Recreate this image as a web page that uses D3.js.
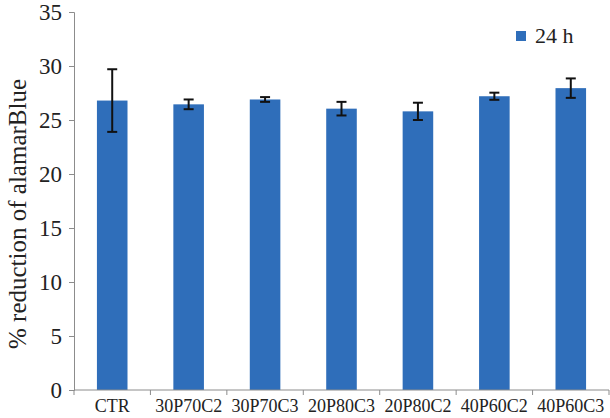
<!DOCTYPE html>
<html lang="en">
<head>
  <meta charset="UTF-8">
  <title>alamarBlue reduction</title>
  <script src="https://cdn.jsdelivr.net/npm/d3@7/dist/d3.min.js"></script>
  <style>
    body { margin: 0; background: #fff; }
    svg { display: block; }
    text { font-family: "Liberation Serif", "Times New Roman", serif; fill: #222; }
  </style>
</head>
<body>
  <svg></svg>
  <script>
    const width = 610;
    const height = 418;

    // data
    const groups = ["CTR", "30P70C2", "30P70C3", "20P80C3", "20P80C2", "40P60C2", "40P60C3"];
    const values = [26.8, 26.45, 26.9, 26.05, 25.8, 27.2, 27.95];
    const errors = [2.9, 0.45, 0.22, 0.63, 0.8, 0.33, 0.9];
    const yTicks = [0, 5, 10, 15, 20, 25, 30, 35];
    const seriesName = "24 h";

    const margin = { top: 12, right: 1, bottom: 28, left: 74 };
    const barColor = "#2f6eba";
    const axisColor = "#8c8c8c";

    const svg = d3.select("svg").attr("width", width).attr("height", height);

    const x = d3.scaleBand()
      .domain(groups)
      .range([margin.left, width - margin.right])
      .paddingInner(0.6)
      .paddingOuter(0.3);

    const y = d3.scaleLinear()
      .domain([0, 35])
      .range([height - margin.bottom, margin.top]);

    // bars
    svg.append("g")
      .selectAll("rect")
      .data(groups)
      .join("rect")
      .attr("x", d => x(d))
      .attr("y", (d, i) => y(values[i]))
      .attr("width", x.bandwidth())
      .attr("height", (d, i) => y(0) - y(values[i]))
      .attr("fill", barColor);

    // error bars
    const eb = svg.append("g").attr("stroke", "#111").attr("stroke-width", 2);
    groups.forEach((g, i) => {
      const cx = x(g) + x.bandwidth() / 2;
      const lo = y(values[i] - errors[i]);
      const hi = y(values[i] + errors[i]);
      eb.append("line").attr("x1", cx).attr("x2", cx).attr("y1", lo).attr("y2", hi);
      eb.append("line").attr("x1", cx - 5).attr("x2", cx + 5).attr("y1", lo).attr("y2", lo);
      eb.append("line").attr("x1", cx - 5).attr("x2", cx + 5).attr("y1", hi).attr("y2", hi);
    });

    // y axis
    const yAxis = svg.append("g")
      .attr("transform", `translate(${margin.left},0)`)
      .call(d3.axisLeft(y).tickValues(yTicks).tickSize(5).tickPadding(7));
    yAxis.selectAll("path, line").attr("stroke", axisColor);
    yAxis.selectAll("text").style("font-size", "23px").attr("fill", "#222");

    // x axis, ticks at category boundaries
    const step = x.step();
    const xAxis = svg.append("g").attr("transform", `translate(0,${y(0)})`);
    xAxis.append("line")
      .attr("x1", margin.left).attr("x2", width - margin.right)
      .attr("stroke", axisColor);
    xAxis.selectAll(".tick")
      .data(d3.range(groups.length + 1))
      .join("line")
      .attr("x1", i => margin.left + i * step)
      .attr("x2", i => margin.left + i * step)
      .attr("y1", 0).attr("y2", 5)
      .attr("stroke", axisColor);
    xAxis.selectAll("text")
      .data(groups)
      .join("text")
      .attr("x", d => x(d) + x.bandwidth() / 2)
      .attr("y", 22)
      .attr("text-anchor", "middle")
      .style("font-size", "18px")
      .text(d => d);

    // y label
    svg.append("text")
      .attr("transform", "translate(26,214) rotate(-90)")
      .attr("text-anchor", "middle")
      .style("font-size", "25px")
      .text("% reduction of alamarBlue");

    // legend
    const lg = svg.append("g").attr("transform", "translate(516,31)");
    lg.append("rect").attr("width", 10).attr("height", 10).attr("fill", barColor);
    lg.append("text").attr("x", 19).attr("y", 12).style("font-size", "22px").text(seriesName);
  </script>
</body>
</html>
